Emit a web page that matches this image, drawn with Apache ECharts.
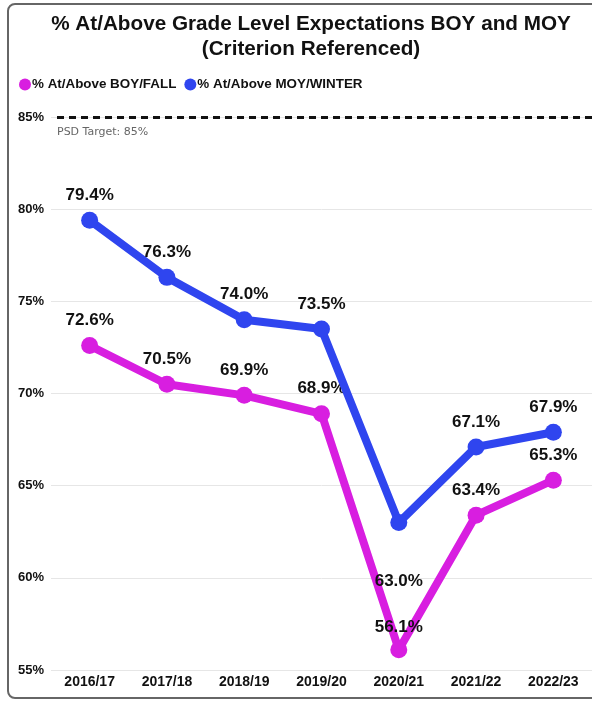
<!DOCTYPE html>
<html>
<head>
<meta charset="utf-8">
<script src="https://cdn.jsdelivr.net/npm/echarts@6/dist/echarts.min.js"></script>
<style>
  html, body { margin: 0; padding: 0; background: #fff; overflow: hidden; }
  #frame {
    position: absolute; left: 7px; top: 3px; width: 600px; height: 696px;
    border: 2px solid #666; border-radius: 8px; box-sizing: border-box;
  }
  #chart { position: absolute; left: 0; top: 0; width: 592px; height: 702px; }
</style>
</head>
<body>
<div id="frame"></div>
<div id="chart"></div>
<script>
const categories = ['2016/17', '2017/18', '2018/19', '2019/20', '2020/21', '2021/22', '2022/23'];
const boyFall = [72.6, 70.5, 69.9, 68.9, 56.1, 63.4, 65.3];
const moyWinter = [79.4, 76.3, 74.0, 73.5, 63.0, 67.1, 67.9];
const targetValue = 85;
const yTicks = [55, 60, 65, 70, 75, 80, 85];

const pink = '#d81ee0';
const blue = '#2f45ef';
const font = 'Liberation Sans, Arial, sans-serif';

const labelStyle = {
  show: true,
  position: 'top',
  distance: 8,
  color: '#111',
  fontFamily: font,
  fontWeight: 'bold',
  fontSize: 17,
  formatter: p => p.value.toFixed(1) + '%'
};

const chart = echarts.init(document.getElementById('chart'));
chart.setOption({
  animation: false,
  backgroundColor: 'transparent',
  title: {
    text: '% At/Above Grade Level Expectations BOY and MOY\n(Criterion Referenced)',
    left: 306, top: 7, textAlign: 'center',
    textStyle: {
      fontFamily: font,
      fontWeight: 'bold', fontSize: 20.7, lineHeight: 25, color: '#111'
    }
  },
  legend: {
    left: 14, top: 73,
    itemWidth: 12, itemHeight: 12, itemGap: 8,
    icon: 'circle',
    textStyle: {
      fontFamily: font,
      fontWeight: 'bold', fontSize: 13.4, color: '#111', padding: [0, 0, 0, -4]
    },
    data: ['% At/Above BOY/FALL', '% At/Above MOY/WINTER']
  },
  grid: { left: 51, right: -10, top: 117, bottom: 32, containLabel: false },
  xAxis: {
    type: 'category',
    data: categories,
    boundaryGap: true,
    axisLine: { show: false },
    axisTick: { show: false },
    axisLabel: {
      color: '#111', fontWeight: 'bold', fontSize: 14,
      fontFamily: font, margin: 5
    }
  },
  yAxis: {
    type: 'value',
    min: yTicks[0], max: yTicks[yTicks.length - 1], interval: 5,
    axisLine: { show: false },
    axisTick: { show: false },
    splitLine: { lineStyle: { color: '#e6e6e6', width: 1 } },
    axisLabel: {
      color: '#111', fontWeight: 'bold', fontSize: 13,
      fontFamily: font,
      align: 'left', margin: 33,
      formatter: v => v + '%'
    }
  },
  series: [
    {
      name: '% At/Above BOY/FALL',
      type: 'line',
      data: boyFall.map((v, i) => i === 4
        ? { value: v, label: { distance: 5 } }
        : v),
      color: pink,
      lineStyle: { width: 8, color: pink },
      symbol: 'circle', symbolSize: 17,
      itemStyle: { color: pink },
      label: labelStyle,
      z: 3
    },
    {
      name: '% At/Above MOY/WINTER',
      type: 'line',
      data: moyWinter.map((v, i) => i === 4
        ? { value: v, label: { position: 'bottom', distance: 42 } }
        : v),
      color: blue,
      lineStyle: { width: 8, color: blue },
      symbol: 'circle', symbolSize: 17,
      itemStyle: { color: blue },
      label: labelStyle,
      markLine: {
        silent: true,
        symbol: 'none',
        lineStyle: { color: '#111', type: [7, 5], width: 3 },
        label: {
          show: true, position: 'insideStartBottom',
          formatter: 'PSD Target: ' + targetValue + '%',
          color: '#666', fontSize: 11, fontFamily: 'DejaVu Sans, sans-serif',
          distance: [0, 10]
        },
        data: [{ yAxis: targetValue, x: 57 }]
      },
      z: 4
    }
  ]
});
</script>
</body>
</html>
